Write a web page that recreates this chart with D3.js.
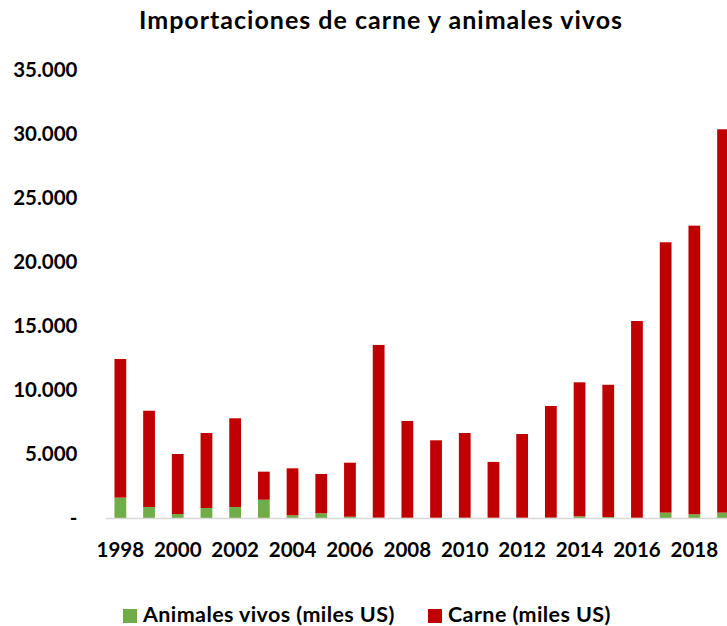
<!doctype html>
<html>
<head>
  <meta charset="utf-8">
  <title>Importaciones de carne y animales vivos</title>
  <style>
    html, body { margin: 0; padding: 0; background: #fff; }
    svg { display: block; }
    text { font-family: Lato, "Open Sans", sans-serif; font-weight: bold; fill: #000; }
  </style>
</head>
<body>
  <svg id="chart"></svg>

  <script src="https://d3js.org/d3.v7.min.js"></script>
  <script>

    // ..... Data .....
    const years = [1998, 1999, 2000, 2001, 2002, 2003, 2004, 2005, 2006, 2007, 2008,
                   2009, 2010, 2011, 2012, 2013, 2014, 2015, 2016, 2017, 2018, 2019];
    const animalesVivos = [1590, 860, 310, 780, 860, 1430, 210, 370, 100, 20, 10,
                           10, 10, 10, 10, 20, 130, 80, 10, 420, 290, 420];
    const carne = [10830, 7520, 4690, 5860, 6930, 2190, 3670, 3070, 4220, 13500, 7570,
                   6060, 6630, 4370, 6550, 8730, 10470, 10330, 15380, 21120, 22550, 29950];
    const yTicks = [0, 5000, 10000, 15000, 20000, 25000, 30000, 35000];
    const xTickYears = [1998, 2000, 2002, 2004, 2006, 2008, 2010, 2012, 2014, 2016, 2018];
    const seriesNames = ["Animales vivos (miles US)", "Carne (miles US)"];
    const seriesColors = ["#70AD47", "#C00000"];

    const width = 727;
    const height = 626;

    const svg = d3.select("#chart")
        .attr("width", width)
        .attr("height", height);

    // table for the stack
    const table = years.map((y, i) => ({ year: y, vivos: animalesVivos[i], carne: carne[i] }));
    const stack = d3.stack().keys(["vivos", "carne"])(table);

    // scales (plot runs past the right edge, like the original)
    const x = d3.scaleBand()
        .domain(years)
        .range([106, 106 + years.length * 28.7])
        .paddingInner(0.59)
        .paddingOuter(0.295);

    const y = d3.scaleLinear()
        .domain([0, 35000])
        .range([518, 70]);

    const es = d3.formatLocale({ decimal: ",", thousands: ".", grouping: [3], currency: ["$", ""] });
    const fmt = es.format(",");

    // title
    svg.append("text")
        .attr("x", 381)
        .attr("y", 29)
        .attr("text-anchor", "middle")
        .style("font-size", "25px")
        .style("letter-spacing", "1px")
        .text("Importaciones de carne y animales vivos");

    // bars
    svg.append("g")
      .selectAll("g")
      .data(stack)
      .join("g")
        .attr("fill", (d, i) => seriesColors[i])
      .selectAll("rect")
      .data(d => d)
      .join("rect")
        .attr("x", d => x(d.data.year))
        .attr("y", d => y(d[1]))
        .attr("width", x.bandwidth())
        .attr("height", d => y(d[0]) - y(d[1]));

    // category axis line
    svg.append("line")
        .attr("x1", x.range()[0])
        .attr("x2", width)
        .attr("y1", y(0) + 0.5)
        .attr("y2", y(0) + 0.5)
        .style("stroke", "#d9d9d9")
        .style("stroke-width", 1.5);

    // y axis
    const yAxis = svg.append("g")
        .attr("transform", "translate(106,0)")
        .call(d3.axisLeft(y)
          .tickValues(yTicks)
          .tickSize(0)
          .tickPadding(28.5)
          .tickFormat(d => d === 0 ? "-" : fmt(d)));
    yAxis.select(".domain").remove();
    yAxis.selectAll("text")
        .style("font-family", "Lato, sans-serif")
        .style("font-weight", "bold")
        .style("font-size", "20.5px")
        .attr("fill", "#000");

    // x axis
    const xAxis = svg.append("g")
        .attr("transform", "translate(0," + y(0) + ")")
        .call(d3.axisBottom(x)
          .tickValues(xTickYears)
          .tickSize(0)
          .tickPadding(24));
    xAxis.select(".domain").remove();
    xAxis.selectAll("text")
        .style("font-family", "Lato, sans-serif")
        .style("font-weight", "bold")
        .style("font-size", "20.5px")
        .attr("fill", "#000");

    // legend
    const legendX = [123, 428];
    const legend = svg.append("g")
      .selectAll("g")
      .data(seriesNames)
      .join("g")
        .attr("transform", (d, i) => "translate(" + legendX[i] + ",609)");
    legend.append("rect")
        .attr("width", 14)
        .attr("height", 14)
        .attr("fill", (d, i) => seriesColors[i]);
    legend.append("text")
        .attr("x", 20)
        .attr("y", 13)
        .style("font-size", "21.5px")
        .style("letter-spacing", "0.4px")
        .text(d => d);

  </script>
</body>
</html>
